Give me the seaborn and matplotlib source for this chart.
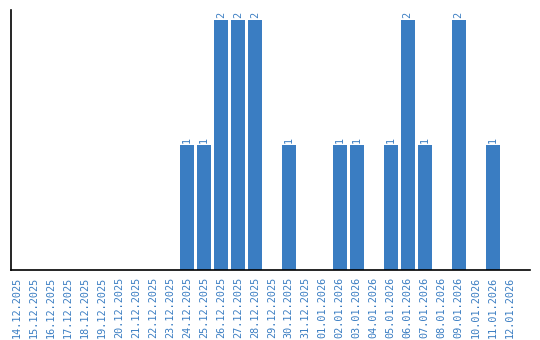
import matplotlib
matplotlib.use("Agg")
import matplotlib.pyplot as plt
import seaborn as sns
import pandas as pd

dates = ["14.12.2025", "15.12.2025", "16.12.2025", "17.12.2025", "18.12.2025",
         "19.12.2025", "20.12.2025", "21.12.2025", "22.12.2025", "23.12.2025",
         "24.12.2025", "25.12.2025", "26.12.2025", "27.12.2025", "28.12.2025",
         "29.12.2025", "30.12.2025", "31.12.2025", "01.01.2026", "02.01.2026",
         "03.01.2026", "04.01.2026", "05.01.2026", "06.01.2026", "07.01.2026",
         "08.01.2026", "09.01.2026", "10.01.2026", "11.01.2026", "12.01.2026"]
counts = [0, 0, 0, 0, 0, 0, 0, 0, 0, 0,
          1, 1, 2, 2, 2, 0, 1, 0, 0, 1,
          1, 0, 1, 2, 1, 0, 2, 0, 1, 0]

color = "#3a7dc2"
df = pd.DataFrame({"date": dates, "count": counts})

sns.set_style("white")
fig = plt.figure(figsize=(5.4, 3.4), dpi=100)
ax = fig.add_axes([10.5 / 540, 70 / 340, (530 - 10.5) / 540, 260 / 340])
sns.barplot(data=df, x="date", y="count", color=color, saturation=1,
            width=0.82, ax=ax, order=dates, linewidth=0)

for i, v in enumerate(counts):
    if v > 0:
        ax.text(i, v + 0.02, str(v), rotation=90, ha="center", va="bottom",
                color=color, fontsize=7.3, family="DejaVu Sans Mono")

ax.set_xlim(-0.38, 30.2)
ax.set_ylim(0, 2.08)
ax.set_xlabel("")
ax.set_ylabel("")
ax.set_yticks([])
ax.set_xticks(range(len(dates)))
ax.set_xticklabels(dates, rotation=90, fontsize=7.3, color=color,
                   family="DejaVu Sans Mono")
ax.tick_params(axis="x", length=0, pad=5)
for s in ["top", "right"]:
    ax.spines[s].set_visible(False)
for s in ["left", "bottom"]:
    ax.spines[s].set_color("black")
    ax.spines[s].set_linewidth(1.2)

fig.savefig("out.png", dpi=100)
